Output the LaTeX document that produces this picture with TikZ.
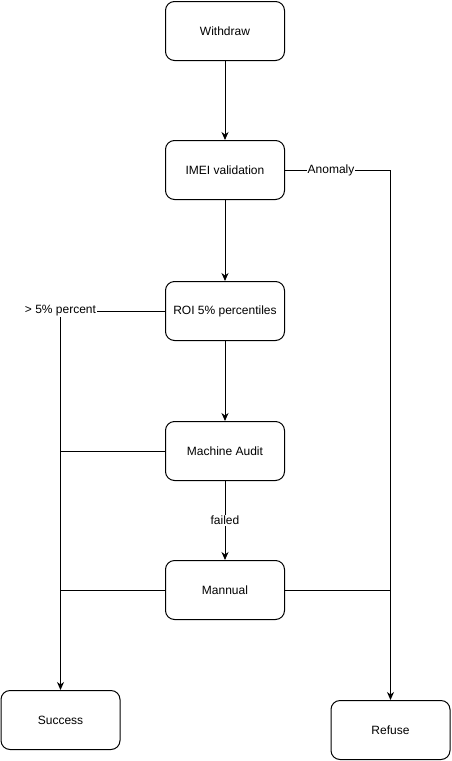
\documentclass[tikz,border=0pt]{standalone}
\usepackage{fontspec}
\setmainfont{Liberation Sans}
\usetikzlibrary{arrows.meta}
\begin{document}
\begin{tikzpicture}[x=1pt,y=-1pt,
  box/.style={draw,line width=1pt,rounded corners=9pt,minimum width=119pt,minimum height=59pt,inner sep=0pt,font=\fontsize{12}{14}\selectfont},
  lbl/.style={fill=white,inner sep=1pt,font=\fontsize{12}{14}\selectfont},
  conn/.style={line width=1pt},
  arr/.style={conn,-{Stealth[length=8pt,width=7pt,inset=2.5pt]}}]
\useasboundingbox (0,0) rectangle (451,761);
\node[box] (w) at (225,31) {Withdraw};
\node[box] (imei) at (225,170) {IMEI validation};
\node[box] (roi) at (225,311) {ROI 5\% percentiles};
\node[box] (ma) at (225,451) {Machine Audit};
\node[box] (man) at (225,590) {Mannual};
\node[box] (suc) at (60.5,720) {Success};
\node[box] (ref) at (390.5,730) {Refuse};
\draw[arr] (w) -- (imei);
\draw[arr] (imei) -- (roi);
\draw[arr] (roi) -- (ma);
\draw[arr] (ma) -- node[lbl] {failed} (man);
\draw[arr] (roi.west) -| node[lbl,pos=0.5] {> 5\% percent} (suc.north);
\draw[conn] (ma.west) -- (ma.west -| suc.north);
\draw[conn] (man.west) -- (man.west -| suc.north);
\draw[arr] (imei.east) -| (ref.north);
\node[lbl] (an) at (331,170) {Anomaly};
\draw[conn] (man.east) -- (man.east -| ref.north);
\end{tikzpicture}
\end{document}
